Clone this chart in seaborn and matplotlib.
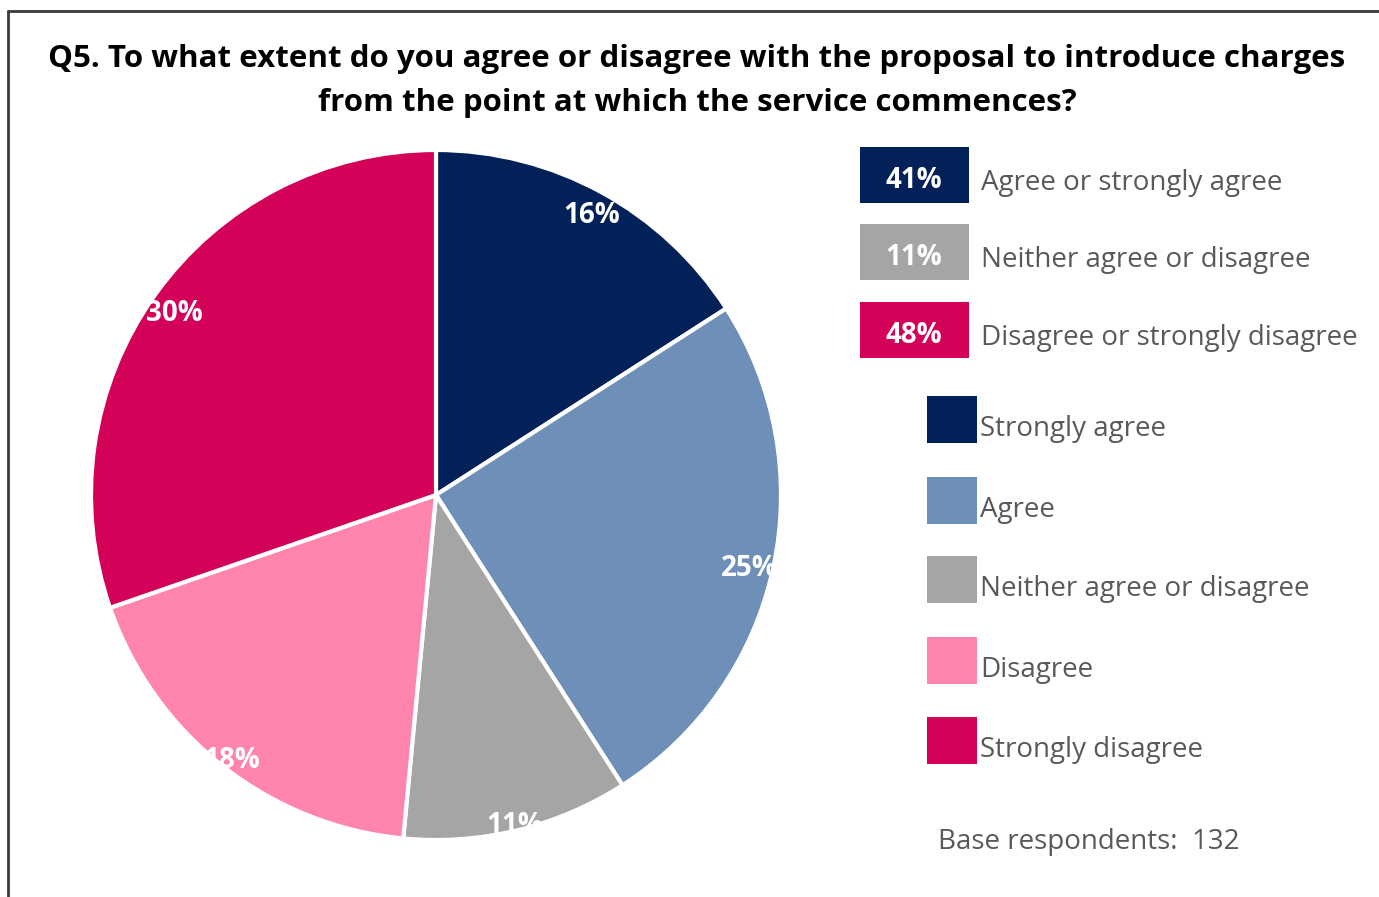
import matplotlib
matplotlib.use("Agg")
import numpy as np
import matplotlib.pyplot as plt
import seaborn as sns
from matplotlib.patches import Rectangle
from matplotlib.lines import Line2D

sns.set_theme(style="white")
plt.rcParams['font.family'] = ['Open Sans', 'DejaVu Sans']

# ---- data (counts of 132 respondents) ----
categories = ["Strongly agree", "Agree", "Neither agree or disagree", "Disagree", "Strongly disagree"]
counts = [21, 33, 14, 24, 40]
colors = ["#022159", "#6E8FB8", "#A5A5A5", "#FF85AD", "#D30157"]
summary_labels = ["Agree or strongly agree", "Neither agree or disagree", "Disagree or strongly disagree"]
summary_values = [41, 11, 48]
summary_colors = ["#022159", "#A5A5A5", "#D30157"]
title_lines = ["Q5. To what extent do you agree or disagree with the proposal to introduce charges",
               "from the point at which the service commences?"]
base_note = "Base respondents:  132"

# label radial positions (style: fraction of radius)
label_dist = [0.94, 0.93, 0.97, 0.96, 0.93]

W, H = 1379, 897
fig = plt.figure(figsize=(W / 100, H / 100), dpi=100)
fig.patch.set_facecolor("white")

def fx(x):
    return x / W

def fy(y):
    return 1 - y / H

# frame (top and left border)
fig.add_artist(Line2D([fx(7.5), fx(7.5)], [fy(11), 0], color="#3A3A3A", lw=2.0))
fig.add_artist(Line2D([fx(7.5), 1], [fy(11), fy(11)], color="#3A3A3A", lw=2.0))

# title
for yb, line in zip([67, 111], title_lines):
    fig.text(fx(697), fy(yb), line, ha="center", va="baseline", fontsize=22.5,
             fontweight="bold", color="black")

# pie
cx, cy, r = 436, 495, 345
ax = fig.add_axes([fx(cx - r), fy(cy + r), 2 * r / W, 2 * r / H])
wedges, texts, autotexts = ax.pie(
    counts, colors=colors, startangle=90, counterclock=False,
    autopct=lambda p: f"{p:.0f}%", pctdistance=0.93,
    wedgeprops=dict(edgecolor="white", linewidth=3),
    textprops=dict(color="white", fontsize=20, fontweight="bold"))
for w, t, d in zip(wedges, autotexts, label_dist):
    ang = np.deg2rad((w.theta1 + w.theta2) / 2)
    t.set_position((d * np.cos(ang), d * np.sin(ang) - 0.014))
    t.set_ha("center")
    t.set_va("center")
ax.set_xlim(-1, 1)
ax.set_ylim(-1, 1)
ax.set_aspect("equal")
ax.axis("off")

# summary legend
sum_tops = [147, 224, 302]
for top, lab, v, c in zip(sum_tops, summary_labels, summary_values, summary_colors):
    fig.add_artist(Rectangle((fx(860), fy(top + 56)), 109 / W, 56 / H,
                             facecolor=c, edgecolor="none", transform=fig.transFigure))
    fig.text(fx(914), fy(top + 41), f"{v}%", ha="center", va="baseline",
             fontsize=20, fontweight="bold", color="white")
    fig.text(fx(981), fy(top + 43), lab, ha="left", va="baseline",
             fontsize=20, color="#595959")

# series legend
leg_tops = [396, 477, 556, 637, 717]
for top, lab, c in zip(leg_tops, categories, colors):
    fig.add_artist(Rectangle((fx(927), fy(top + 47)), 50 / W, 47 / H,
                             facecolor=c, edgecolor="none", transform=fig.transFigure))
    fig.text(fx(980), fy(top + 40), lab, ha="left", va="baseline",
             fontsize=20, color="#595959")

fig.text(fx(938), fy(849), base_note, ha="left", va="baseline", fontsize=20, color="#595959")

fig.savefig("out.png", dpi=100, facecolor="white")
